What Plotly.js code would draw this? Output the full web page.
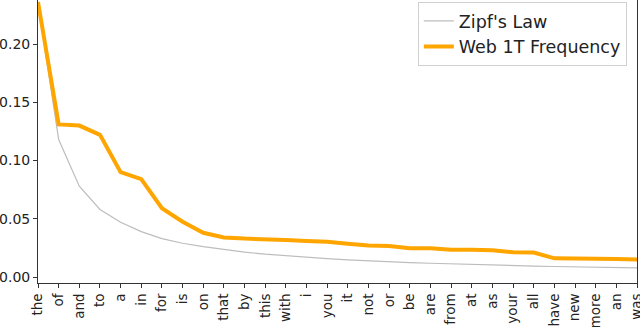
<!DOCTYPE html>
<html>
<head>
<meta charset="utf-8">
<script src="https://cdn.plot.ly/plotly-3.0.1.min.js"></script>
<style>
  body { margin: 0; }
  #chart { width: 640px; height: 327px; }
</style>
</head>
<body>
<div id="chart"></div>
<script>
// top 30 words, ranked
var words = ["the", "of", "and", "to", "a", "in", "for", "is", "on", "that",
  "by", "this", "with", "i", "you", "it", "not", "or", "be", "are",
  "from", "at", "as", "your", "all", "have", "new", "more", "an", "was"];

// values
var zipf = [0.235, 0.118, 0.078, 0.058, 0.047, 0.039, 0.033, 0.029, 0.026, 0.0235,
  0.0214, 0.0196, 0.0181, 0.0168, 0.0157, 0.0147, 0.0138, 0.0131, 0.0124, 0.0118,
  0.0112, 0.0107, 0.0102, 0.0098, 0.0094, 0.0090, 0.0087, 0.0084, 0.0081, 0.0078];

var web1t = [0.236, 0.131, 0.130, 0.122, 0.090, 0.084, 0.059, 0.0475, 0.038, 0.034,
  0.033, 0.032, 0.0318, 0.031, 0.0303, 0.0286, 0.027, 0.0266, 0.0246, 0.0246,
  0.0234, 0.0234, 0.023, 0.0212, 0.021, 0.016, 0.016, 0.0158, 0.0155, 0.015];

var traceZipf = {
  x: words,
  y: zipf,
  type: "scatter",
  mode: "lines",
  name: "Zipf's Law",
  line: { color: "#bdbdbd", width: 1.2 }
};

var traceWeb = {
  x: words,
  y: web1t,
  type: "scatter",
  mode: "lines",
  name: "Web 1T Frequency",
  line: { color: "#ffa500", width: 4 }
};

var layout = {
  width: 640,
  height: 327,
  margin: { l: 38, r: 3, t: 0, b: 44 },
  paper_bgcolor: "white",
  plot_bgcolor: "white",
  font: { family: "DejaVu Sans", size: 14, color: "#222" },
  showlegend: true,
  legend: {
    x: 0.983, y: 0.993, xanchor: "right", yanchor: "top",
    bordercolor: "#d0d0d0", borderwidth: 1,
    bgcolor: "rgba(255,255,255,0.8)",
    font: { family: "DejaVu Sans", size: 17.5, color: "#222" },
    tracegroupgap: 0
  },
  xaxis: {
    type: "category",
    range: [0, 29],
    tickangle: -90,
    ticks: "outside", ticklen: 4, tickcolor: "#333",
    showline: true, linecolor: "#333", linewidth: 1,
    showgrid: false, zeroline: false,
    tickfont: { size: 13.5 }
  },
  yaxis: {
    range: [-0.00515, 0.2378],
    tickvals: [0, 0.05, 0.1, 0.15, 0.2],
    tickformat: ".2f",
    ticks: "outside", ticklen: 4, tickcolor: "#333",
    showline: true, mirror: true, linecolor: "#333", linewidth: 1,
    showgrid: false, zeroline: false,
    tickfont: { size: 14 }
  }
};

Plotly.newPlot("chart", [traceZipf, traceWeb], layout, { displayModeBar: false });
</script>
</body>
</html>
